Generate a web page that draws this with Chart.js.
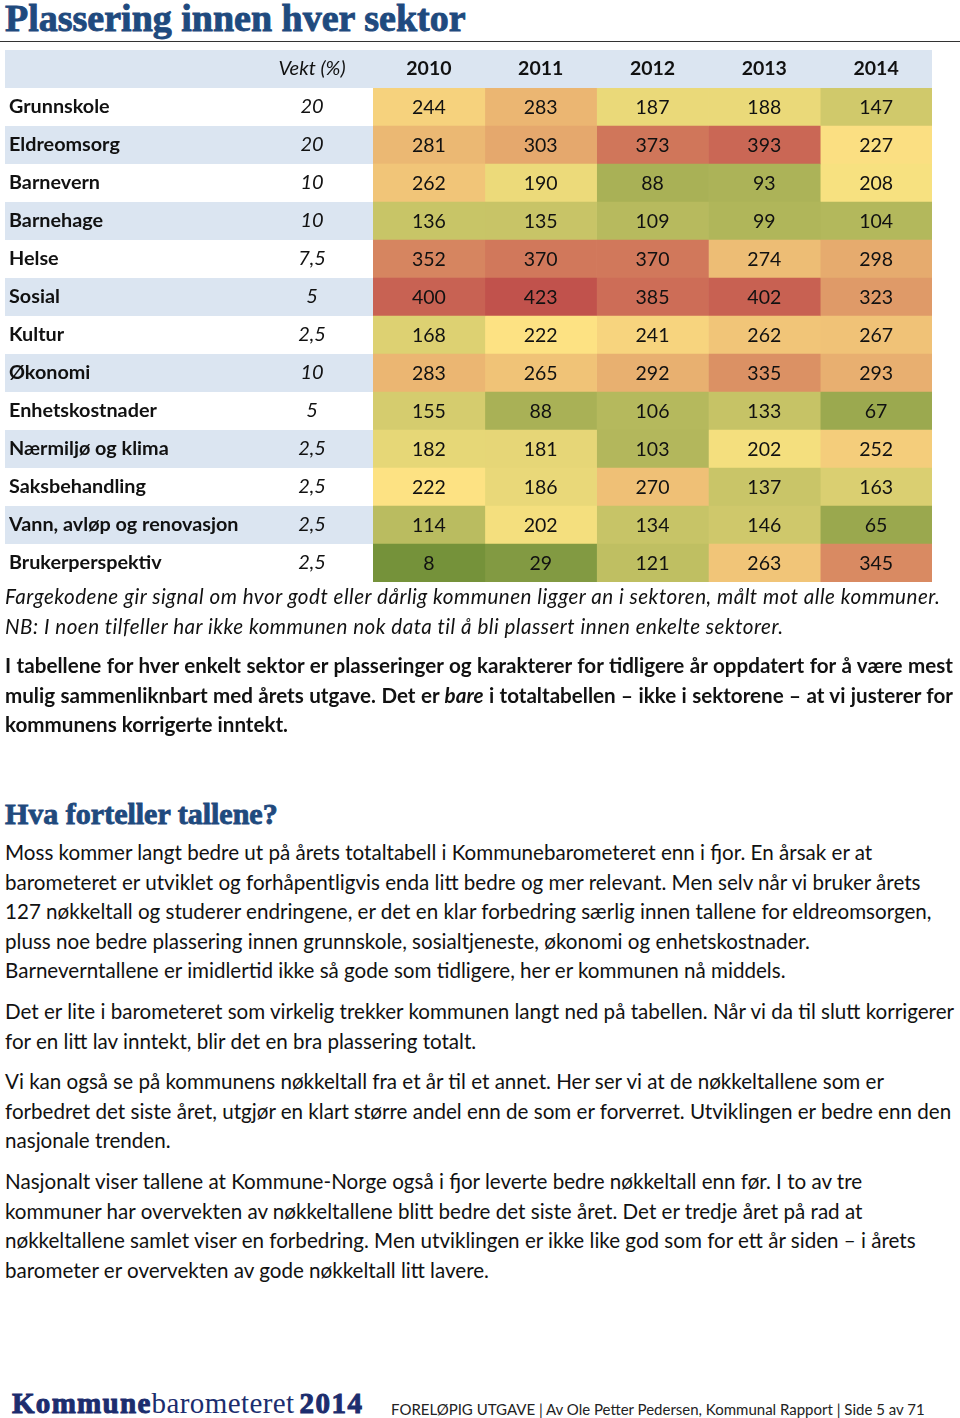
<!DOCTYPE html>
<html>
<head>
<meta charset="utf-8">
<script src="https://cdn.jsdelivr.net/npm/chart.js@4.4.1/dist/chart.umd.min.js"></script>
<style>
  body { margin: 0; width: 960px; height: 1418px; background: #fff; position: relative; overflow: hidden;
         font-family: Lato, "Open Sans", sans-serif; color: #111; }
  .abs { position: absolute; white-space: nowrap; }
  .serif { font-family: "Liberation Serif", "DejaVu Serif", serif; font-weight: bold; color: #1f4a7e;
           -webkit-text-stroke: 0.9px #1f4a7e; }
  #title { left: 5px; top: -4px; font-size: 38px; line-height: 44px; letter-spacing: 0px; }
  #rule { left: 0; top: 41px; width: 960px; height: 1px; background: #333; }
  #wrap { left: 0; top: 50px; width: 940px; height: 532px; }
  .txt { left: 5px; font-size: 20.6px; line-height: 29.6px; }
  .txt div { width: 948px; }
  .j { text-align: justify; text-align-last: justify; }
  .cap { font-style: italic; line-height: 30px; letter-spacing: 0.5px; }
  .bold { font-weight: bold; }
  #h2 { left: 5px; top: 796px; font-size: 30px; line-height: 36px; letter-spacing: 0px; }
  #logo { left: 12px; top: 1386px; font-size: 29px; line-height: 34px; color: #1c2d6e;
          font-family: "Liberation Serif", serif; }
  #logo .k { font-weight: bold; -webkit-text-stroke: 1px #1c2d6e; letter-spacing: 1.3px; }
  #logo .b { font-weight: normal; letter-spacing: 0.4px; }
  #logo .y { font-weight: bold; -webkit-text-stroke: 1px #1c2d6e; letter-spacing: 1.5px; margin-left: 5px; }
  #foot { left: 391px; top: 1398px; font-size: 15px; line-height: 22px; color: #222; }
</style>
</head>
<body>
<div id="title" class="abs serif">Plassering innen hver sektor</div>
<div id="rule" class="abs"></div>
<div id="wrap" class="abs"><canvas id="sectorChart" width="940" height="532"></canvas></div>

<div class="abs txt cap" style="top:581px">
  <div>Fargekodene gir signal om hvor godt eller dårlig kommunen ligger an i sektoren, målt mot alle kommuner.</div>
  <div>NB: I noen tilfeller har ikke kommunen nok data til å bli plassert innen enkelte sektorer.</div>
</div>
<div class="abs txt bold" style="top:651px">
  <div class="j">I tabellene for hver enkelt sektor er plasseringer og karakterer for tidligere år oppdatert for å være mest</div>
  <div class="j">mulig sammenliknbart med årets utgave. Det er <i>bare</i> i totaltabellen – ikke i sektorene – at vi justerer for</div>
  <div>kommunens korrigerte inntekt.</div>
</div>

<div id="h2" class="abs serif">Hva forteller tallene?</div>

<div class="abs txt" style="top:838px">
  <div>Moss kommer langt bedre ut på årets totaltabell i Kommunebarometeret enn i fjor. En årsak er at</div>
  <div>barometeret er utviklet og forhåpentligvis enda litt bedre og mer relevant. Men selv når vi bruker årets</div>
  <div>127 nøkkeltall og studerer endringene, er det en klar forbedring særlig innen tallene for eldreomsorgen,</div>
  <div>pluss noe bedre plassering innen grunnskole, sosialtjeneste, økonomi og enhetskostnader.</div>
  <div>Barneverntallene er imidlertid ikke så gode som tidligere, her er kommunen nå middels.</div>
</div>
<div class="abs txt" style="top:997px">
  <div>Det er lite i barometeret som virkelig trekker kommunen langt ned på tabellen. Når vi da til slutt korrigerer</div>
  <div>for en litt lav inntekt, blir det en bra plassering totalt.</div>
</div>
<div class="abs txt" style="top:1067px">
  <div>Vi kan også se på kommunens nøkkeltall fra et år til et annet. Her ser vi at de nøkkeltallene som er</div>
  <div>forbedret det siste året, utgjør en klart større andel enn de som er forverret. Utviklingen er bedre enn den</div>
  <div>nasjonale trenden.</div>
</div>
<div class="abs txt" style="top:1167px">
  <div>Nasjonalt viser tallene at Kommune-Norge også i fjor leverte bedre nøkkeltall enn før. I to av tre</div>
  <div>kommuner har overvekten av nøkkeltallene blitt bedre det siste året. Det er tredje året på rad at</div>
  <div>nøkkeltallene samlet viser en forbedring. Men utviklingen er ikke like god som for ett år siden – i årets</div>
  <div>barometer er overvekten av gode nøkkeltall litt lavere.</div>
</div>

<div id="logo" class="abs"><span class="k">Kommune</span><span class="b">barometeret</span><span class="y">2014</span></div>
<div id="foot" class="abs">FORELØPIG UTGAVE | Av Ole Petter Pedersen, Kommunal Rapport | Side 5 av 71</div>

<script>
// plassering (rangering blant alle kommuner) per sektor og år
const years = ['2010', '2011', '2012', '2013', '2014'];
const sectors = ['Grunnskole', 'Eldreomsorg', 'Barnevern', 'Barnehage', 'Helse', 'Sosial', 'Kultur', 'Økonomi',
                 'Enhetskostnader', 'Nærmiljø og klima', 'Saksbehandling', 'Vann, avløp og renovasjon', 'Brukerperspektiv'];
const weights = ['20', '20', '10', '10', '7,5', '5', '2,5', '10', '5', '2,5', '2,5', '2,5', '2,5'];

const rank2010 = [244, 281, 262, 136, 352, 400, 168, 283, 155, 182, 222, 114, 8];
const rank2011 = [283, 303, 190, 135, 370, 423, 222, 265, 88, 181, 186, 202, 29];
const rank2012 = [187, 373, 88, 109, 370, 385, 241, 292, 106, 103, 270, 134, 121];
const rank2013 = [188, 393, 93, 99, 274, 402, 262, 335, 133, 202, 137, 146, 263];
const rank2014 = [147, 227, 208, 104, 298, 323, 267, 293, 67, 252, 163, 65, 345];

const ranks = [rank2010, rank2011, rank2012, rank2013, rank2014];

// fargeskala: grønn (best) - gul - rød (dårligst)
const scaleStops = [
    { v: 1,   c: [112, 143, 56] },
    { v: 218, c: [254, 229, 132] },
    { v: 428, c: [192, 78, 75] }
];
function rankColor(r) {
    let a = scaleStops[0], b = scaleStops[1];
    if (r > scaleStops[1].v) { a = scaleStops[1]; b = scaleStops[2]; }
    const t = Math.max(0, Math.min(1, (r - a.v) / (b.v - a.v)));
    const c = a.c.map((x, i) => Math.round(x + (b.c[i] - x) * t));
    return `rgb(${c[0]},${c[1]},${c[2]})`;
}

const stripeColor = '#dbe5f1';
const textFont = 'Lato, "Open Sans", sans-serif';

// bakgrunnsstriper, vekt-kolonne og tall i cellene
const tablePlugin = {
    id: 'tablePlugin',
    beforeDraw(chart) {
        const { ctx, chartArea, scales: { y } } = chart;
        const rowH = chartArea.height / sectors.length;
        ctx.save();
        ctx.fillStyle = stripeColor;
        ctx.fillRect(5, 0, chartArea.right - 5, chartArea.top);
        sectors.forEach((s, i) => {
            if (i % 2 === 1) {
                const yc = y.getPixelForValue(i);
                ctx.fillRect(5, yc - rowH / 2, chartArea.left - 5, rowH);
            }
        });
        ctx.restore();
    },
    afterDraw(chart) {
        const { ctx, chartArea, scales: { y } } = chart;
        const vx = 312;
        ctx.save();
        ctx.fillStyle = '#111';
        ctx.textAlign = 'center';
        ctx.textBaseline = 'middle';
        ctx.font = 'italic 20px ' + textFont;
        ctx.fillText('Vekt (%)', vx, chartArea.top / 2);
        weights.forEach((w, i) => {
            ctx.fillText(w, vx, y.getPixelForValue(i));
        });
        ctx.font = '19.5px ' + textFont;
        chart.data.datasets.forEach((ds, di) => {
            chart.getDatasetMeta(di).data.forEach((el, j) => {
                ctx.fillText(String(ranks[di][j]), (el.x + el.base) / 2, el.y + 1);
            });
        });
        ctx.restore();
    }
};

const ctx = document.getElementById('sectorChart').getContext('2d');
new Chart(ctx, {
    type: 'bar',
    data: {
        labels: sectors,
        datasets: years.map((yr, i) => ({
            label: yr,
            data: ranks[i].map(() => 1),   // hver celle er én kolonne bred
            backgroundColor: ranks[i].map(r => rankColor(r)),
            borderWidth: 0,
            barPercentage: 1,
            categoryPercentage: 1
        }))
    },
    options: {
        indexAxis: 'y',
        responsive: false,
        animation: false,
        layout: { padding: { left: 9, right: 8, top: 0, bottom: 0 } },
        scales: {
            x: {
                type: 'linear',
                position: 'top',
                stacked: true,
                min: 0,
                max: years.length,
                grid: { display: false, drawTicks: false },
                border: { display: false },
                afterBuildTicks: sc => { sc.ticks = years.map((yr, i) => ({ value: i + 0.5 })); },
                afterFit: sc => { sc.height = 38; sc.paddingLeft = 0; sc.paddingRight = 0; },
                ticks: {
                    autoSkip: false,
                    maxRotation: 0,
                    padding: 8,
                    color: '#111',
                    font: { family: textFont, size: 19.5, weight: 'bold' },
                    callback: v => years[Math.floor(v)]
                }
            },
            y: {
                stacked: true,
                grid: { display: false, drawTicks: false },
                border: { display: false },
                afterFit: sc => { sc.width = 364; sc.paddingTop = 0; sc.paddingBottom = 0; },
                ticks: {
                    autoSkip: false,
                    crossAlign: 'far',
                    color: '#111',
                    font: { family: textFont, size: 19.8, weight: 'bold' }
                }
            }
        },
        plugins: {
            legend: { display: false },
            tooltip: { enabled: false },
            title: { display: false }
        }
    },
    plugins: [tablePlugin]
});
</script>
</body>
</html>
